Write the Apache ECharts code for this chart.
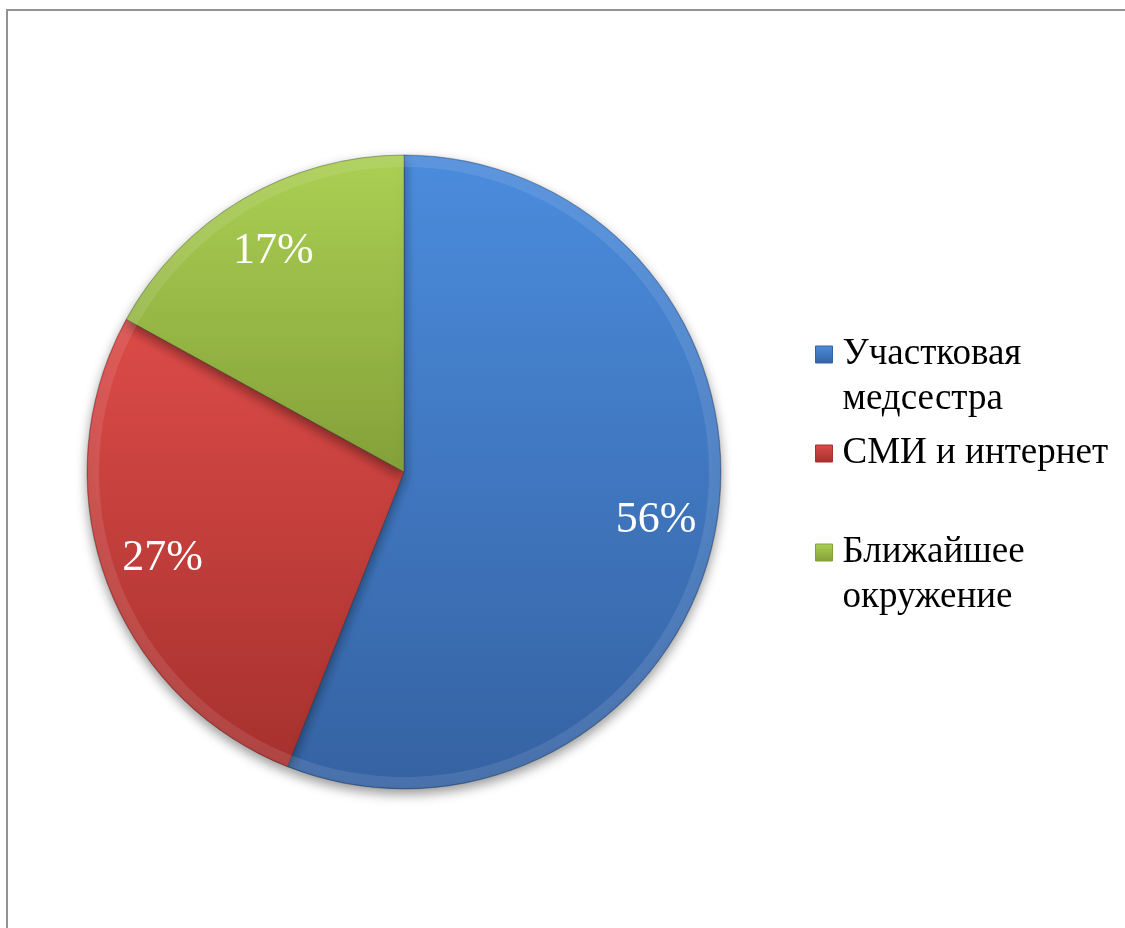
<!DOCTYPE html>
<html>
<head>
<meta charset="utf-8">
<title>Источники информации</title>
<script src="https://cdn.jsdelivr.net/npm/echarts@6/dist/echarts.min.js"></script>
<style>
  html, body { margin: 0; padding: 0; background: #fff; }
  #chart { width: 1125px; height: 928px; }
</style>
</head>
<body>
<div id="chart"></div>
<script>
// Источники информации (доли, %)
const categories = ['Участковая медсестра', 'СМИ и интернет', 'Ближайшее окружение'];
const shares = [56, 27, 17];
// Подписи легенды: пустая первая строка ставит маркер напротив первой строки текста
const legendLabels = ['\nУчастковая\nмедсестра', '\nСМИ и интернет\n ', '\nБлижайшее\nокружение'];

// Верх и низ вертикального градиента каждого сектора
const sliceTop = ['#4b8cdd', '#dc4b48', '#abd053'];
const sliceBottom = ['#3562a2', '#a6312e', '#84a039'];

const SERIF = '"Liberation Serif", "Times New Roman", "DejaVu Serif", serif';
const CX = 404, CY = 472, R = 317;

function vGrad(top, bottom) {
  return new echarts.graphic.LinearGradient(0, 0, 0, 1, [
    { offset: 0, color: top },
    { offset: 1, color: bottom }
  ]);
}

const pieData = categories.map((name, i) => ({
  name: name,
  value: shares[i],
  itemStyle: { color: vGrad(sliceTop[i], sliceBottom[i]) }
}));

// Прозрачная копия круга большего радиуса — только для подписей долей
const labelData = categories.map((name, i) => ({ name: name, value: shares[i] }));

// Светлый ободок по краю круга
const rimData = categories.map((name, i) => ({ name: name, value: shares[i] }));

const chart = echarts.init(document.getElementById('chart'), null, { renderer: 'canvas' });

chart.setOption({
  animation: false,
  backgroundColor: '#ffffff',
  graphic: [{
    type: 'rect',
    silent: true,
    shape: { x: 7, y: 10, width: 1200, height: 1000 },
    style: { fill: 'none', stroke: '#929292', lineWidth: 2 }
  }],
  legend: {
    orient: 'vertical',
    left: 815,
    top: 287,
    padding: 0,
    itemWidth: 17,
    itemHeight: 17,
    itemGap: -36,
    selectedMode: false,
    data: categories.map((name, i) => ({
      name: name,
      icon: 'rect',
      itemStyle: {
        color: vGrad(sliceTop[i], sliceBottom[i]),
        borderColor: sliceBottom[i],
        borderWidth: 1
      }
    })),
    formatter: function (name) {
      return legendLabels[categories.indexOf(name)];
    },
    textStyle: {
      fontFamily: SERIF,
      fontSize: 37,
      lineHeight: 45,
      color: '#000000',
      padding: [0, 0, 0, 5]
    }
  },
  series: [
    {
      type: 'pie',
      name: 'доли',
      center: [CX, CY],
      radius: [0, R],
      startAngle: 90,
      clockwise: true,
      silent: true,
      label: { show: false },
      labelLine: { show: false },
      emphasis: { disabled: true },
      itemStyle: {
        borderColor: 'rgba(40,40,40,0.35)',
        borderWidth: 1,
        shadowBlur: 12,
        shadowOffsetY: 5,
        shadowColor: 'rgba(0,0,0,0.4)'
      },
      data: pieData
    },
    {
      type: 'pie',
      name: 'ободок',
      center: [CX, CY],
      radius: [R - 12, R - 1],
      startAngle: 90,
      clockwise: true,
      silent: true,
      label: { show: false },
      labelLine: { show: false },
      emphasis: { disabled: true },
      itemStyle: { color: 'rgba(255,255,255,0.10)', borderWidth: 0 },
      data: rimData
    },
    {
      type: 'pie',
      name: 'подписи',
      center: [CX, CY],
      radius: [0, R * 1.6],
      startAngle: 90,
      clockwise: true,
      silent: true,
      emphasis: { disabled: true },
      itemStyle: { color: 'rgba(0,0,0,0)', borderWidth: 0 },
      labelLine: { show: false },
      label: {
        show: true,
        position: 'inside',
        formatter: '{c}%',
        fontFamily: SERIF,
        fontSize: 44,
        color: '#ffffff'
      },
      data: labelData
    }
  ]
});
</script>
</body>
</html>
